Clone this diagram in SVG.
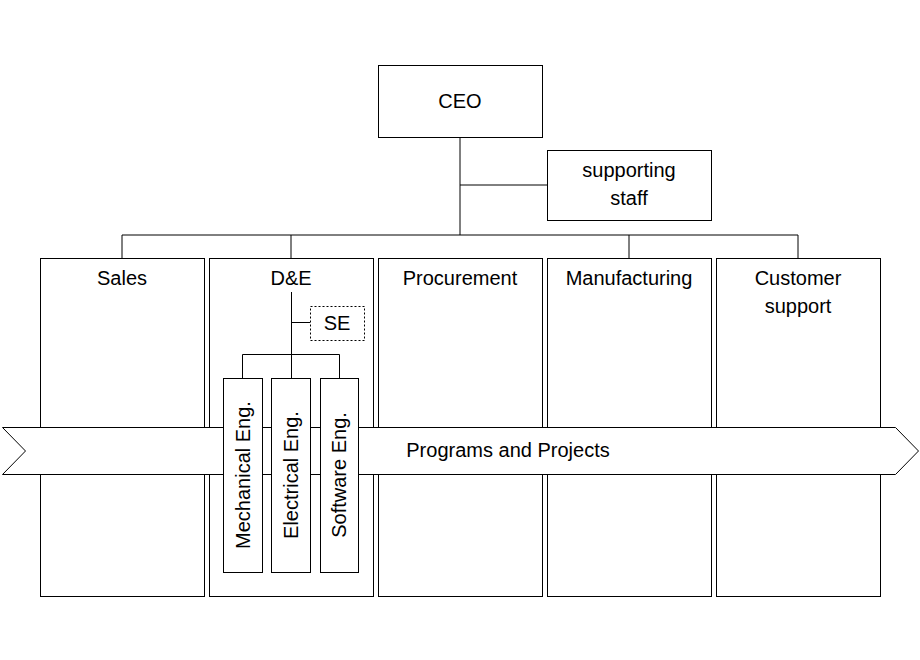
<svg xmlns="http://www.w3.org/2000/svg" width="920" height="660" viewBox="0 0 920 660">
<style>
rect,polygon{fill:#fff;stroke:#000;stroke-width:1}
line{stroke:#000;stroke-width:1}
text{font-family:"Liberation Sans",Arial,sans-serif;font-size:20px;fill:#000;text-anchor:middle}
.dash{stroke-dasharray:2,2}
</style>
<rect x="0" y="0" width="920" height="660" style="stroke:none"/>
<g id="connectors">
<line x1="460" y1="137" x2="460" y2="235"/>
<line x1="460" y1="185" x2="547" y2="185"/>
<line x1="122" y1="235" x2="798" y2="235"/>
<line x1="122" y1="235" x2="122" y2="258"/>
<line x1="291" y1="235" x2="291" y2="258"/>
<line x1="629" y1="235" x2="629" y2="258"/>
<line x1="798" y1="235" x2="798" y2="258"/>
</g>
<g id="ceo"><rect x="378.5" y="65.5" width="164" height="72"/><text x="460" y="108">CEO</text></g>
<g id="staff"><rect x="547.5" y="150.5" width="164" height="70"/><text x="629" y="177">supporting</text><text x="629" y="205">staff</text></g>
<g id="sales"><rect x="40.5" y="258.5" width="164" height="338"/><text x="122" y="285">Sales</text></g>
<g id="de"><rect x="209.5" y="258.5" width="164" height="338"/><text x="291" y="285">D&amp;E</text></g>
<g id="procurement"><rect x="378.5" y="258.5" width="164" height="338"/><text x="460" y="285">Procurement</text></g>
<g id="manufacturing"><rect x="547.5" y="258.5" width="164" height="338"/><text x="629" y="285">Manufacturing</text></g>
<g id="support"><rect x="716.5" y="258.5" width="164" height="338"/><text x="798" y="285">Customer</text><text x="798" y="313">support</text></g>
<g id="programs"><polygon points="2.5,427.5 895.5,427.5 918.5,451 895.5,474.5 2.5,474.5 25.5,451"/><text x="508" y="457">Programs and Projects</text></g>
<g id="de-connectors">
<line x1="291.5" y1="292" x2="291.5" y2="378"/>
<line x1="291.5" y1="322.5" x2="310" y2="322.5"/>
<line x1="242.5" y1="354.5" x2="339.5" y2="354.5"/>
<line x1="242.5" y1="354.5" x2="242.5" y2="378"/>
<line x1="339.5" y1="354.5" x2="339.5" y2="378"/>
</g>
<g id="se"><rect class="dash" x="310.5" y="306.5" width="54" height="34"/><text x="337" y="330">SE</text></g>
<g id="mech"><rect x="223.5" y="378.5" width="39" height="194"/><text transform="translate(250,475) rotate(-90)">Mechanical Eng.</text></g>
<g id="elec"><rect x="271.5" y="378.5" width="39" height="194"/><text transform="translate(298,475) rotate(-90)">Electrical Eng.</text></g>
<g id="soft"><rect x="320.5" y="378.5" width="38" height="194"/><text transform="translate(346,475) rotate(-90)">Software Eng.</text></g>
</svg>
